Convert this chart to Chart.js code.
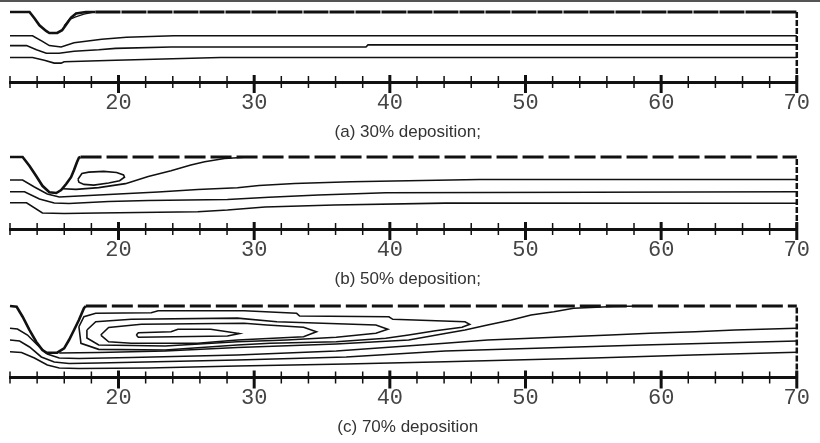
<!DOCTYPE html>
<html>
<head>
<meta charset="utf-8">
<script src="https://cdn.jsdelivr.net/npm/chart.js@4.4.1/dist/chart.umd.min.js"></script>
<style>
html,body{margin:0;padding:0;background:#fff;}
#wrap{position:relative;width:820px;height:443px;overflow:hidden;}
#topline{position:absolute;left:0;top:0;width:820px;height:2px;background:#555;}
canvas{position:absolute;left:0;}
</style>
</head>
<body>
<div id="wrap">
  <div id="topline"></div>
  <canvas id="cA" width="820" height="146" style="top:0px"></canvas>
  <canvas id="cB" width="820" height="148" style="top:145px"></canvas>
  <canvas id="cC" width="820" height="149" style="top:294px"></canvas>
</div>
<script>
// axis
const xMin=12, xMax=70, tickStep=2, labelEvery=10;
const captions=['(a) 30% deposition;','(b) 50% deposition;','(c) 70% deposition'];

// x = axial position, y = fraction of channel height (0 = axis line, 1 = upper wall)
// (a) 30%
const aDeposit=[[12,1],[13.44,1],[13.80,0.91],[14.17,0.81],[14.66,0.73],[14.90,0.70],[15.48,0.70],[15.84,0.74],[16.21,0.84],[16.50,0.92],[16.87,0.98],[17.59,1],[18.3,1]];
const aWall=[[18.3,1],[70,1]];
const aEddy=[[15.99,0.80],[16.35,0.89],[16.84,0.93],[17.45,0.97],[18.18,1]];
const aLine1=[[12,0.66],[13.66,0.66],[14.39,0.58],[14.90,0.52],[15.77,0.50],[16.72,0.56],[18.76,0.61],[20.58,0.64],[24.09,0.66],[70,0.66]];
const aLine2=[[12,0.52],[13.22,0.52],[13.95,0.46],[14.68,0.41],[15.62,0.41],[16.72,0.44],[18.54,0.46],[19.78,0.48],[23.87,0.50],[38.24,0.50],[38.39,0.53],[70,0.53]];
const aLine3=[[12,0.35],[13.66,0.35],[14.53,0.31],[15.26,0.27],[15.77,0.27],[15.99,0.29],[19.78,0.31],[27.51,0.35],[70,0.35]];

// (b) 50%
const bDeposit=[[12,1],[12.93,1],[13.44,0.875],[13.93,0.736],[14.39,0.60],[14.90,0.51],[15.41,0.50],[15.77,0.54],[16.14,0.625],[16.50,0.72],[16.72,0.82],[16.94,0.93],[17.08,0.99],[17.2,1]];
const bWall=[[17.2,1],[70,1]];
const bSeparation=[[15.9,0.56],[16.87,0.55],[18.54,0.575],[20.51,0.63],[22.19,0.73],[23.87,0.81],[25.33,0.89],[26.35,0.935],[27.81,0.98],[28.76,0.99],[29.5,1]];
const bEddy=[[17.01,0.69],[17.30,0.77],[17.81,0.79],[18.91,0.80],[19.86,0.785],[20.37,0.75],[20.44,0.72],[20.08,0.67],[19.27,0.64],[18.18,0.61],[17.45,0.62],[17.08,0.65],[17.01,0.69]];
const bLine1=[[12,0.68],[12.93,0.68],[13.80,0.583],[14.75,0.486],[15.63,0.444],[17.08,0.458],[20.0,0.486],[22.92,0.514],[25.84,0.549],[28.76,0.572],[30.36,0.604],[32.98,0.632],[37.14,0.657],[46.62,0.6875],[70,0.6875]];
const bLine2=[[12,0.518],[13.07,0.518],[14.17,0.417],[15.26,0.361],[16.35,0.354],[19.27,0.382],[22.19,0.396],[28.03,0.41],[31.09,0.44],[34.74,0.472],[39.70,0.504],[70,0.518]];
const bLine3=[[12,0.365],[13.22,0.365],[14.39,0.222],[15.99,0.215],[18.54,0.222],[25.84,0.24],[28.03,0.264],[30.80,0.306],[35.90,0.333],[44.07,0.36],[70,0.357]];

// (c) 70%
const cDeposit=[[12,1],[12.49,0.99],[12.93,0.85],[13.44,0.664],[13.93,0.50],[14.39,0.385],[14.68,0.347],[15.48,0.347],[15.99,0.408],[16.35,0.524],[16.72,0.664],[17.08,0.804],[17.45,0.968],[17.59,1]];
const cWall=[[17.59,1],[70,1]];
const cSeparation=[[15.63,0.343],[18.54,0.35],[23.43,0.371],[28.76,0.42],[36.05,0.469],[41.39,0.524],[44.07,0.615],[45.54,0.664],[47.20,0.734],[48.95,0.804],[50.41,0.874],[52.09,0.92],[53.55,0.968],[56.47,0.993],[58.66,1]];
const cEddy1=[[17.08,0.71],[17.45,0.85],[18.32,0.898],[22.41,0.906],[22.92,0.934],[29.26,0.934],[33.13,0.898],[33.35,0.86],[39.93,0.85],[40.22,0.814],[45.54,0.78],[45.89,0.744],[45.32,0.702],[43.36,0.655],[41.39,0.594],[39.70,0.548],[36.05,0.50],[31.16,0.478],[28.76,0.455],[23.43,0.385],[18.54,0.394],[17.23,0.478],[17.08,0.71]];
const cEddy2=[[17.67,0.664],[18.32,0.78],[20.95,0.814],[28.76,0.83],[31.67,0.78],[38.97,0.734],[39.85,0.674],[38.97,0.618],[36.05,0.562],[32.40,0.524],[28.76,0.50],[23.43,0.44],[18.54,0.455],[17.67,0.552],[17.67,0.664]];
const cEddy3=[[18.69,0.594],[19.27,0.70],[21.68,0.744],[29.26,0.758],[30.94,0.734],[33.64,0.702],[34.59,0.64],[33.64,0.57],[28.76,0.524],[25.84,0.478],[20.95,0.478],[19.27,0.50],[18.69,0.594]];
const cEddy4=[[21.31,0.594],[21.46,0.627],[23.87,0.64],[24.38,0.674],[26.79,0.674],[28.03,0.64],[28.90,0.615],[28.03,0.58],[21.46,0.562],[21.31,0.594]];
const cLine1=[[12,0.688],[12.55,0.678],[13.29,0.594],[14.02,0.455],[14.75,0.329],[15.63,0.273],[17.08,0.266],[20.95,0.28],[28.76,0.315],[36.05,0.371],[44.07,0.479],[47.20,0.524],[56.25,0.594],[59.17,0.618],[62.52,0.64],[65.44,0.664],[70,0.688]];
const cLine2=[[12,0.524],[12.71,0.51],[13.44,0.427],[14.31,0.287],[15.26,0.217],[16.35,0.196],[18.54,0.203],[28.76,0.245],[36.78,0.287],[44.07,0.371],[51.36,0.413],[58.66,0.455],[70,0.51]];
const cLine3=[[12,0.36],[12.85,0.35],[13.80,0.273],[14.75,0.175],[15.63,0.133],[17.08,0.126],[22.19,0.133],[28.76,0.161],[36.78,0.189],[44.07,0.221],[55.01,0.273],[62.3,0.315],[70,0.353]];

const outlet=[[70,0],[70,1]];

function line(pts,opt){
  return Object.assign({data:pts.map(p=>({x:p[0],y:p[1]})),showLine:true,borderColor:'#111',
    borderWidth:1.6,pointRadius:0,tension:0,clip:false},opt||{});
}
const depo={borderWidth:2.6};
const out={borderWidth:2.5,borderDash:[6,2]};

// tick marks that cross the axis line, placed by the x scale
const crossTicks={
  id:'crossTicks',
  afterDraw(chart){
    const sc=chart.scales.x, ctx=chart.ctx, yb=chart.chartArea.bottom;
    ctx.save();
    ctx.strokeStyle='#111';
    sc.ticks.forEach(t=>{
      const px=sc.getPixelForValue(t.value);
      const major=t.value%labelEvery===0;
      ctx.lineWidth=major?3:1.5;
      ctx.beginPath();
      ctx.moveTo(px,yb-(major?7:6));
      ctx.lineTo(px,yb+(major?11:6));
      ctx.stroke();
    });
    ctx.restore();
  }
};

const panels=[
  {id:'cA',caption:captions[0],padTop:12,padBottom:3.6,sets:[
    line(aDeposit,depo),line(aWall,{borderWidth:3,borderDash:[25,1]}),line(aEddy,{borderWidth:1.4}),
    line(aLine1),line(aLine2),line(aLine3),line(outlet,out)]},
  {id:'cB',caption:captions[1],padTop:12,padBottom:3.6,sets:[
    line(bDeposit,depo),line(bWall,{borderWidth:3,borderDash:[21,5]}),line(bSeparation),line(bEddy),
    line(bLine1),line(bLine2),line(bLine3),line(outlet,out)]},
  {id:'cC',caption:captions[2],padTop:12,padBottom:5.1,sets:[
    line(cDeposit,depo),line(cWall,{borderWidth:3,borderDash:[21,5]}),line(cSeparation),
    line(cEddy1),line(cEddy2),line(cEddy3),line(cEddy4),
    line(cLine1),line(cLine2),line(cLine3),line(outlet,out)]}
];

panels.forEach(p=>{
  new Chart(document.getElementById(p.id),{
    type:'scatter',
    data:{datasets:p.sets},
    options:{
      responsive:false,animation:false,events:[],
      layout:{padding:{left:10,right:14.5,top:p.padTop,bottom:p.padBottom}},
      plugins:{
        legend:{display:false},
        tooltip:{enabled:false},
        title:{display:true,position:'bottom',text:p.caption,color:'#333',
          font:{family:'Liberation Sans',size:17,weight:'normal',lineHeight:1.2},padding:{top:-2,bottom:0}}
      },
      scales:{
        x:{type:'linear',min:xMin,max:xMax,
          grid:{display:false,drawTicks:false},
          border:{display:true,width:3,color:'#111'},
          ticks:{stepSize:tickStep,autoSkip:false,maxRotation:0,padding:10,color:'#444',
            font:{family:'Liberation Mono',size:22,lineHeight:1},
            callback:v=>v%labelEvery===0?String(v):''}},
        y:{display:false,min:0,max:1}
      }
    },
    plugins:[crossTicks]
  });
});
</script>
</body>
</html>
